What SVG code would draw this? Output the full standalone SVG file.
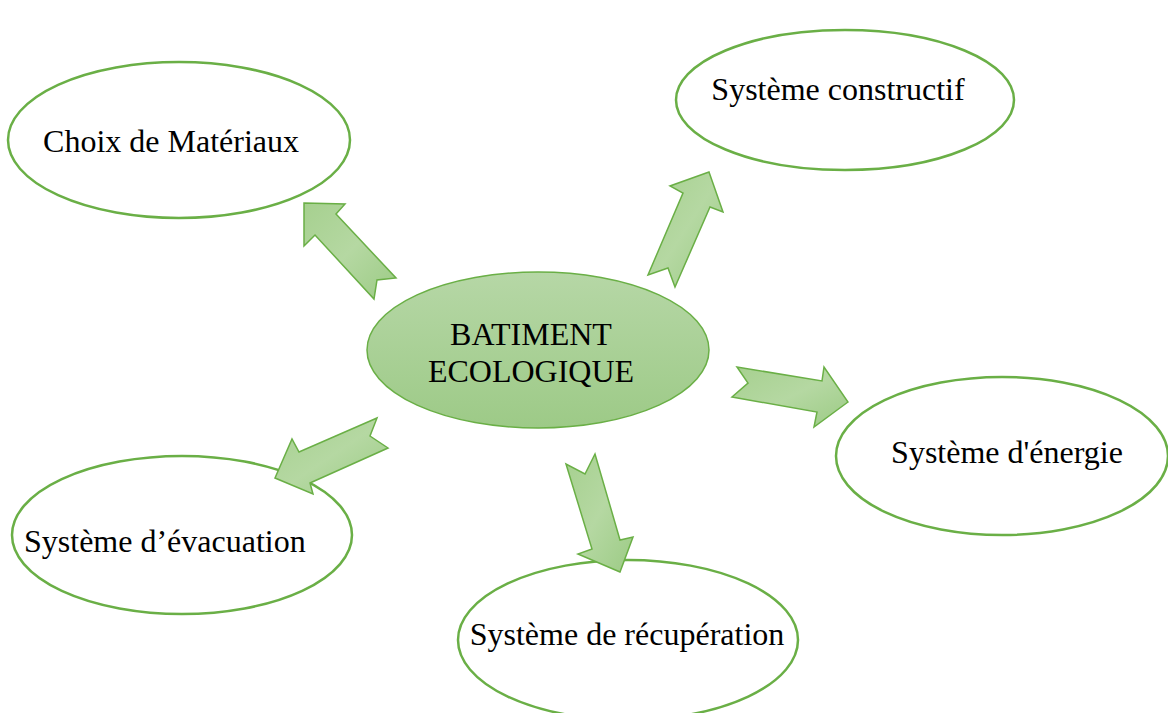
<svg xmlns="http://www.w3.org/2000/svg" width="1168" height="713" viewBox="0 0 1168 713">
<defs>
<linearGradient id="gc" x1="0" y1="0" x2="0" y2="1">
<stop offset="0" stop-color="#b6d7a6"/>
<stop offset="1" stop-color="#9dca87"/>
</linearGradient>
<linearGradient id="ga" x1="0" y1="0" x2="1" y2="1">
<stop offset="0" stop-color="#a6d08f"/>
<stop offset="0.5" stop-color="#b5d8a2"/>
<stop offset="1" stop-color="#9ccb85"/>
</linearGradient>
</defs>
<style>
.n{fill:#ffffff;stroke:#6aaf46;stroke-width:2.5}
.c{fill:url(#gc);stroke:#6aaf46;stroke-width:1.5}
.a{fill:url(#ga);stroke:#6aaf46;stroke-width:1.5;stroke-linejoin:miter}
text{font-family:"Liberation Serif","Times New Roman",serif;font-size:32px;fill:#000}
</style>
<rect width="1168" height="713" fill="#ffffff"/>
<g id="n-choix"><ellipse class="n" cx="179" cy="140" rx="171" ry="78"/><text x="171" y="152" text-anchor="middle">Choix de Matériaux</text></g>
<g id="n-constructif"><ellipse class="n" cx="845" cy="100" rx="169" ry="70"/><text x="838" y="100" text-anchor="middle">Système constructif</text></g>
<g id="n-energie"><ellipse class="n" cx="1002" cy="456" rx="166" ry="79"/><text x="1007" y="463" text-anchor="middle">Système d'énergie</text></g>
<g id="n-evacuation"><ellipse class="n" cx="182" cy="535" rx="170" ry="79"/><text x="24" y="552">Système d’évacuation</text></g>
<g id="n-recuperation"><ellipse class="n" cx="628" cy="640" rx="170" ry="80"/><text x="627" y="645" text-anchor="middle">Système de récupération</text></g>
<g id="n-center"><ellipse class="c" cx="538" cy="350" rx="171" ry="78"/><text x="531" y="345" text-anchor="middle">BATIMENT</text><text x="531" y="382" text-anchor="middle">ECOLOGIQUE</text></g>
<g id="connectors">
<polygon class="a" points="304,203 345,204 336,214 396,278 377,280 374,299 315,235 304,246"/>
<polygon class="a" points="709,172 723,212 710,207 675,287 668,268 648,275 683,193 670,186"/>
<polygon class="a" points="848,402 814,427 817,412 732,397 748,383 737,367 822,381 824,367"/>
<polygon class="a" points="275,478 292,439 299,452 377,418 370,436 388,448 310,483 313,494"/>
<polygon class="a" points="620,572 578,554 592,549 566,464 585,474 595,454 620,540 633,537"/>
</g>
</svg>
